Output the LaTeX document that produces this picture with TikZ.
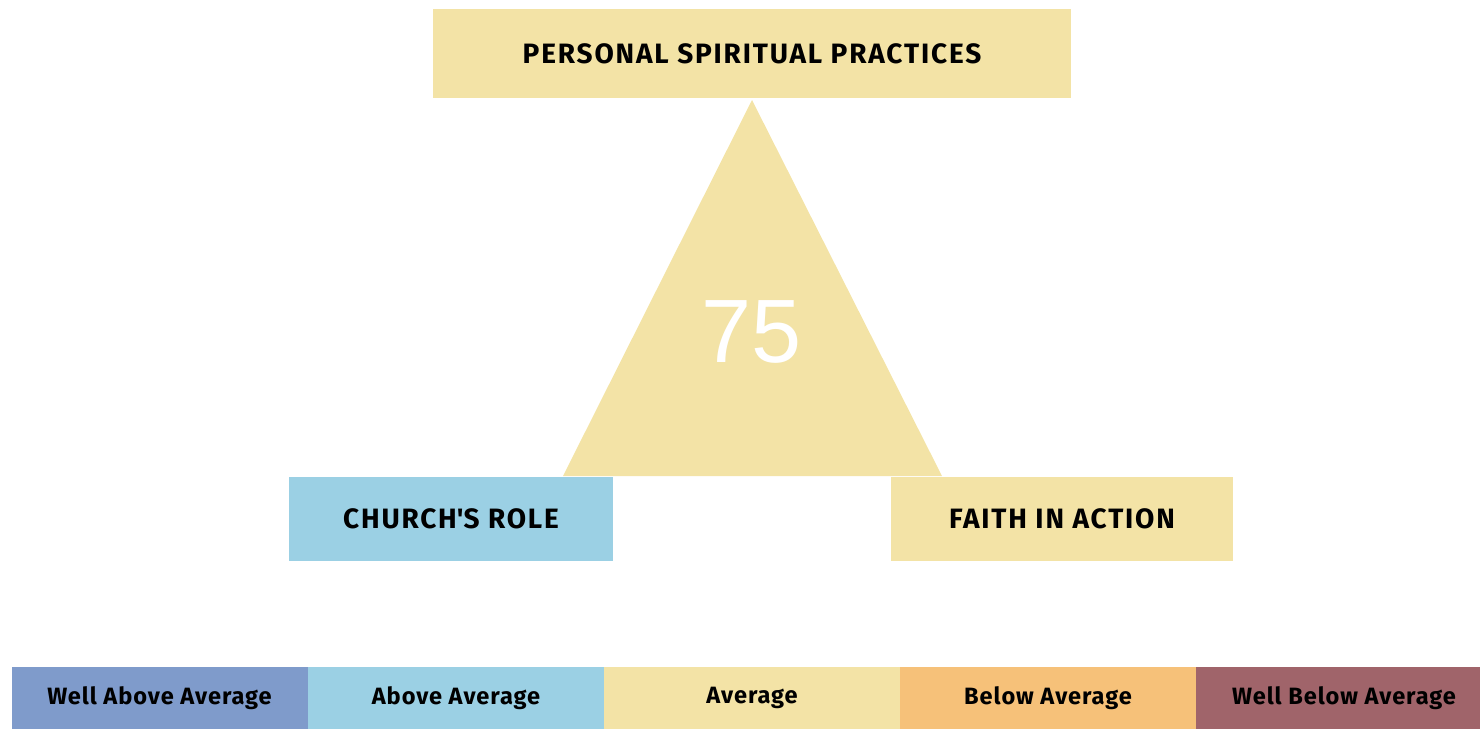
\documentclass[tikz,border=0pt]{standalone}
\usepackage{fontspec}
\setmainfont{Fira Sans}
\newfontfamily\numfont{Liberation Sans}
\usepackage{xcolor}
\definecolor{avg}{RGB}{243,227,166}
\definecolor{above}{RGB}{155,208,228}
\definecolor{wabove}{RGB}{127,155,203}
\definecolor{below}{RGB}{246,193,121}
\definecolor{wbelow}{RGB}{160,100,106}

\begin{document}
\begin{tikzpicture}[x=0.5pt,y=-0.5pt,
  area/.style={inner sep=0pt,font=\fontsize{14}{16}\selectfont\bfseries\addfontfeatures{LetterSpace=6.5}},
  key/.style={inner sep=0pt,minimum width=148pt,minimum height=31pt,font=\fontsize{11.8}{13}\selectfont\bfseries\addfontfeatures{LetterSpace=4}}]
\useasboundingbox (0,0) rectangle (1480,729);
\clip (0,0) rectangle (1480,729);
% triangle
\coordinate (apex) at (752,100);
\coordinate (bl) at (563,476);
\coordinate (br) at (942,476);
\fill[avg] (apex) -- (bl) -- (br) -- cycle;
\node[white,font=\fontsize{45}{45}\selectfont\numfont] (score) at (752,332) {75};
% areas
\node[area,fill=avg,minimum width=319pt,minimum height=44.5pt] (personal) at (752,53.5) {PERSONAL SPIRITUAL PRACTICES};
\node[area,fill=above,minimum width=162pt,minimum height=42pt] (church) at (451,519) {CHURCH\textquotesingle S ROLE};
\node[area,fill=avg,minimum width=171pt,minimum height=42pt] (faith) at (1062,519) {FAITH IN ACTION};
% legend
\foreach \x/\c/\l [count=\i] in {159.5/wabove/{Well Above Average},456/above/{Above Average},752/avg/{Average},1048/below/{Below Average},1344/wbelow/{Well Below Average}}
  {\node[key,fill=\c] (key\i) at (\x,698) {\l};}
\end{tikzpicture}
\end{document}
